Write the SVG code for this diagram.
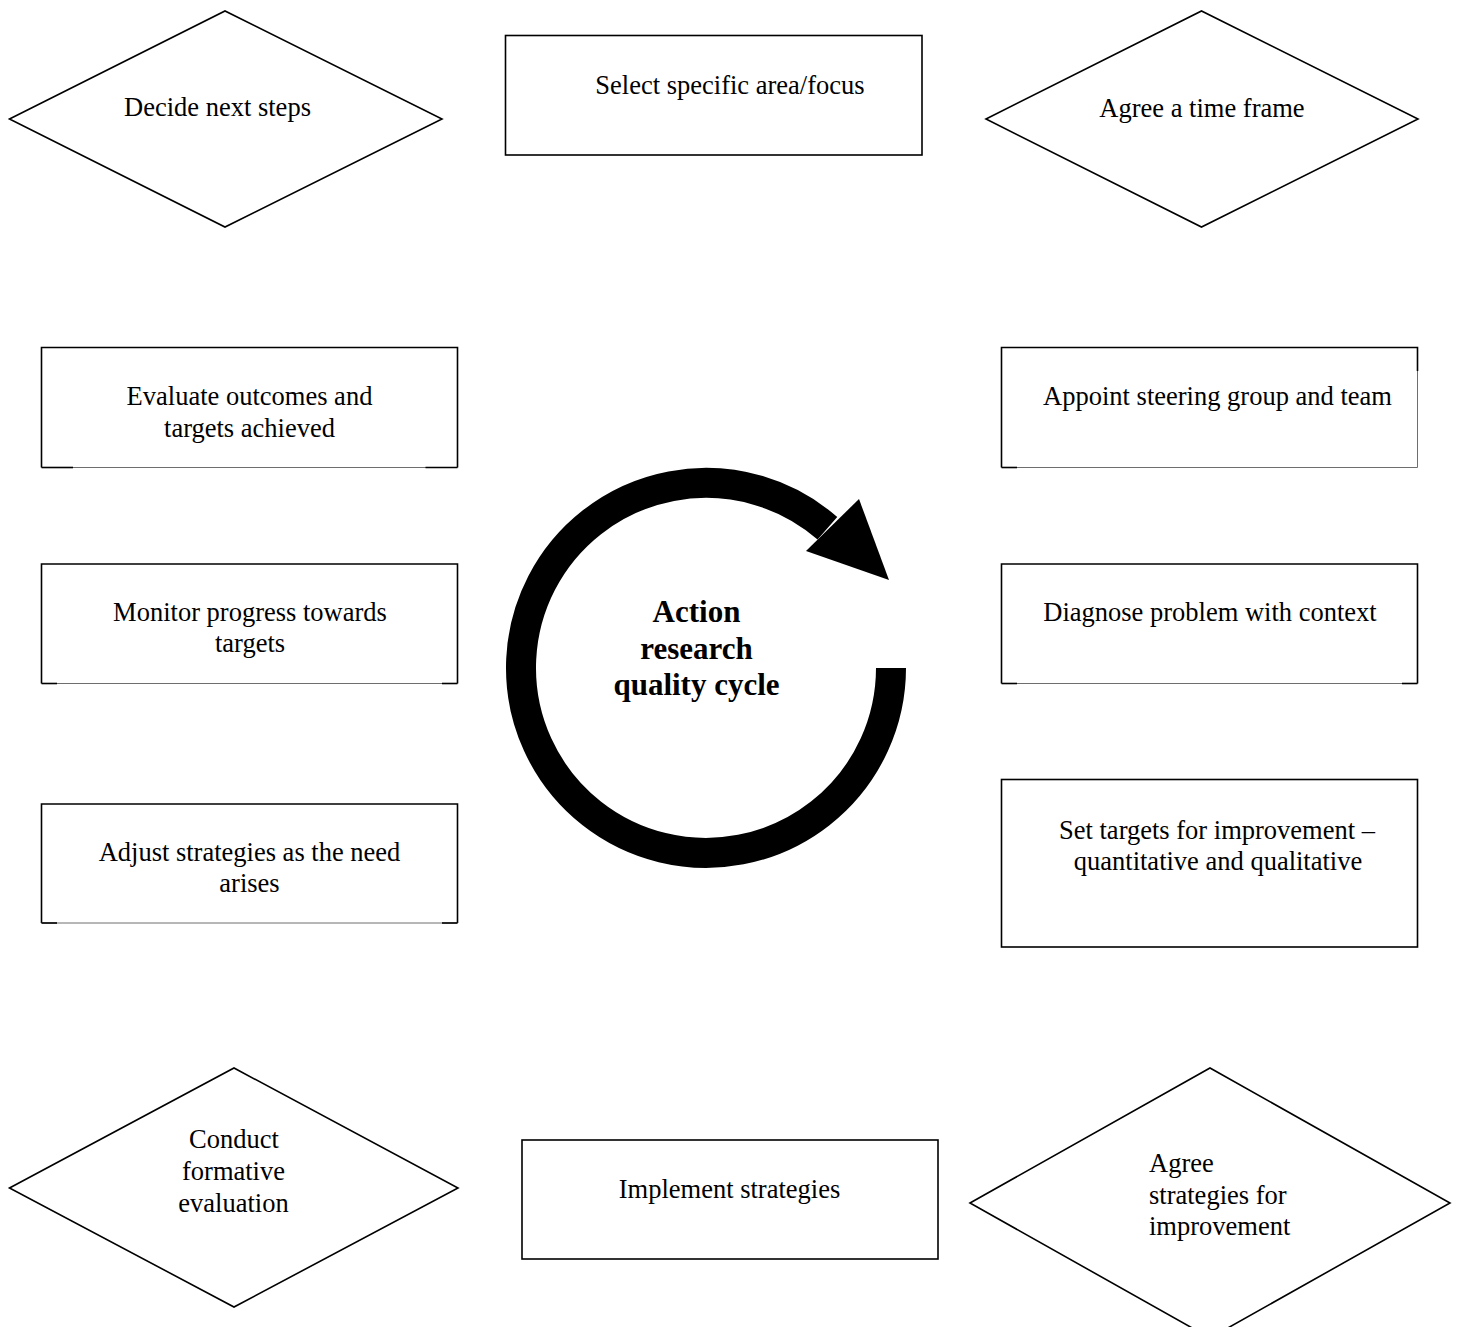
<svg xmlns="http://www.w3.org/2000/svg" width="1460" height="1327" viewBox="0 0 1460 1327">
  <style>
    .shape { fill: #ffffff; stroke: #000000; stroke-width: 1.6; }
    .edge { fill: none; stroke: #000000; stroke-width: 1.6; }
    .thin { fill: none; stroke: #6e6e6e; stroke-width: 1; }
    .label { font-family: "Liberation Serif", "Times New Roman", serif; font-size: 26.5px; fill: #000000; text-anchor: middle; }
    .left { text-anchor: start; }
    .title { font-family: "Liberation Serif", "Times New Roman", serif; font-size: 31px; font-weight: bold; fill: #000000; text-anchor: middle; }
  </style>
  <rect x="0" y="0" width="1460" height="1327" fill="#ffffff"/>

  <!-- Top row -->
  <g id="decide-next-steps">
    <polygon class="shape" points="9.5,119 225,11 442,119 225,227"/>
    <text class="label" x="217.5" y="116">Decide next steps</text>
  </g>
  <g id="select-area">
    <rect class="shape" x="505.5" y="35.5" width="416.5" height="119.5"/>
    <text class="label" x="730" y="94">Select specific area/focus</text>
  </g>
  <g id="agree-time-frame">
    <polygon class="shape" points="986,119 1201.5,11 1418,119 1201.5,227"/>
    <text class="label" x="1202" y="117">Agree a time frame</text>
  </g>

  <!-- Left column -->
  <g id="evaluate-outcomes">
    <rect x="41.5" y="347.5" width="416" height="120" fill="#ffffff"/>
    <path class="edge" d="M41.5 467.5 V347.5 H457.5 V467.5"/>
    <line class="thin" x1="41.5" y1="467.5" x2="457.5" y2="467.5"/>
    <line class="edge" x1="41.5" y1="467.5" x2="73" y2="467.5"/>
    <line class="edge" x1="425.5" y1="467.5" x2="457.5" y2="467.5"/>
    <text class="label" x="249.5" y="405">Evaluate outcomes and</text>
    <text class="label" x="249.5" y="437">targets achieved</text>
  </g>
  <g id="monitor-progress">
    <rect x="41.5" y="564" width="416" height="119.5" fill="#ffffff"/>
    <path class="edge" d="M41.5 683.5 V564 H457.5 V683.5"/>
    <line class="thin" x1="41.5" y1="683.5" x2="457.5" y2="683.5"/>
    <line class="edge" x1="41.5" y1="683.5" x2="57" y2="683.5"/>
    <line class="edge" x1="442" y1="683.5" x2="457.5" y2="683.5"/>
    <text class="label" x="250" y="620.5">Monitor progress towards</text>
    <text class="label" x="250" y="652">targets</text>
  </g>
  <g id="adjust-strategies">
    <rect x="41.5" y="804" width="416" height="119" fill="#ffffff"/>
    <path class="edge" d="M41.5 923 V804 H457.5 V923"/>
    <line class="thin" x1="41.5" y1="923" x2="457.5" y2="923"/>
    <line class="edge" x1="41.5" y1="923" x2="57" y2="923"/>
    <line class="edge" x1="442" y1="923" x2="457.5" y2="923"/>
    <text class="label" x="249.5" y="860.5">Adjust strategies as the need</text>
    <text class="label" x="249.5" y="892">arises</text>
  </g>

  <!-- Right column -->
  <g id="appoint-steering-group">
    <rect x="1001.5" y="347.5" width="416" height="120" fill="#ffffff"/>
    <path class="edge" d="M1001.5 467.5 V347.5 H1417.5 V371"/>
    <line class="thin" x1="1417.5" y1="371" x2="1417.5" y2="467.5"/>
    <line class="thin" x1="1001.5" y1="467.5" x2="1417.5" y2="467.5"/>
    <line class="edge" x1="1001.5" y1="467.5" x2="1017" y2="467.5"/>
    <text class="label" x="1217.5" y="405">Appoint steering group and team</text>
  </g>
  <g id="diagnose-problem">
    <rect x="1001.5" y="564" width="416" height="119.5" fill="#ffffff"/>
    <path class="edge" d="M1001.5 683.5 V564 H1417.5 V683.5"/>
    <line class="thin" x1="1001.5" y1="683.5" x2="1417.5" y2="683.5"/>
    <line class="edge" x1="1001.5" y1="683.5" x2="1017" y2="683.5"/>
    <line class="edge" x1="1402" y1="683.5" x2="1417.5" y2="683.5"/>
    <text class="label" x="1210" y="620.5">Diagnose problem with context</text>
  </g>
  <g id="set-targets">
    <rect class="shape" x="1001.5" y="779.5" width="416" height="167.5"/>
    <text class="label" x="1217" y="838.5">Set targets for improvement –</text>
    <text class="label" x="1218" y="870">quantitative and qualitative</text>
  </g>

  <!-- Bottom row -->
  <g id="conduct-formative-evaluation">
    <polygon class="shape" points="9.5,1188 234,1068 458,1188 234,1307"/>
    <text class="label" x="234" y="1148">Conduct</text>
    <text class="label" x="233.5" y="1180">formative</text>
    <text class="label" x="233.5" y="1212">evaluation</text>
  </g>
  <g id="implement-strategies">
    <rect class="shape" x="522" y="1140" width="416" height="119"/>
    <text class="label" x="729.5" y="1198">Implement strategies</text>
  </g>
  <g id="agree-strategies">
    <polygon class="shape" points="970,1203 1210,1068 1450,1203 1210,1338"/>
    <text class="label left" x="1149" y="1172">Agree</text>
    <text class="label left" x="1149" y="1204">strategies for</text>
    <text class="label left" x="1149" y="1235">improvement</text>
  </g>

  <!-- Central cycle arrow -->
  <g id="connectors">
    <path d="M891 668 A185 185 0 1 1 827.4 528.3" fill="none" stroke="#000000" stroke-width="30" stroke-linecap="butt"/>
    <polygon points="806,551 859,499 889,580" fill="#000000"/>
  </g>
  <g id="cycle-title">
    <text class="title" x="696.5" y="622">Action</text>
    <text class="title" x="696.5" y="659">research</text>
    <text class="title" x="696.5" y="695">quality cycle</text>
  </g>
</svg>
